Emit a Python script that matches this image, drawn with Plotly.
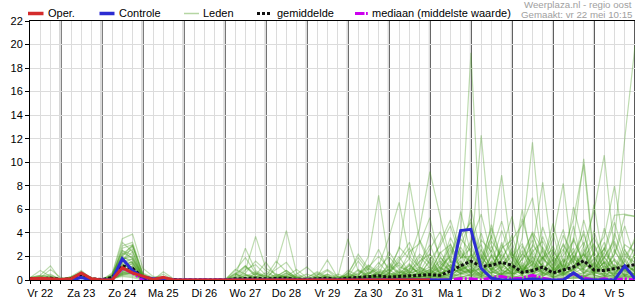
import plotly.graph_objects as go
import pandas as pd

# ---------------- data ----------------
START = "2020-05-22 06:00"      # first 6-hourly step (Vr 22 06:00)
END = "2020-06-06 00:00"        # right edge of the chart
N_STEPS = 60
DAY_LABELS = ["Vr 22", "Za 23", "Zo 24", "Ma 25", "Di 26", "Wo 27", "Do 28", "Vr 29",
              "Za 30", "Zo 31", "Ma 1", "Di 2", "Wo 3", "Do 4", "Vr 5"]
FIRST_NOON = "2020-05-22 12:00"
FIRST_MIDNIGHT = "2020-05-23 00:00"

# Operational run (10 days, i = 0..39)
OPER = [0.1, 0.15, 0.1, 0.05, 0.1, 0.6, 0.1, 0, 0, 1.05, 0.6, 0.3, 0.05, 0.22, 0,
        0, 0, 0, 0, 0, 0, 0, 0, 0, 0, 0, 0, 0, 0, 0, 0, 0, 0, 0, 0, 0, 0, 0, 0, 0]

CONTROLE = [0, 0, 0, 0, 0, 0.2, 0, 0, 0, 1.8, 0.8, 0.25, 0.1, 0.1, 0,
            0, 0, 0, 0, 0, 0, 0, 0, 0, 0, 0, 0, 0, 0, 0, 0, 0, 0, 0, 0,
            0, 0, 0, 0, 0, 0, 0, 4.2, 4.3, 1.0, 0.15, 0, 0, 0, 0.1, 0,
            0, 0, 0.6, 0, 0, 0, 0, 1.2, 0.1]

GEMIDDELDE = [0.1, 0.15, 0.15, 0.05, 0.1, 0.45, 0.1, 0.05, 0.2, 1.2, 1.0,
              0.2, 0.05, 0.1, 0.02, 0, 0, 0, 0, 0, 0.1, 0.15, 0.15,
              0.1, 0.1, 0.15, 0.05, 0.05, 0.1, 0.15, 0.05, 0.15, 0.2, 0.25, 0.35,
              0.25, 0.3, 0.4, 0.42, 0.45, 0.4, 0.75, 1.2, 1.6, 1.15, 1.25, 1.5,
              1.25, 0.65, 0.8, 1.1, 0.6, 0.85, 1.1, 1.65, 0.85, 0.8, 0.95, 1.15, 1.3]

MEDIAAN = [0, 0, 0, 0, 0, 0.45, 0, 0, 0, 1.0, 0.6, 0, 0, 0, 0,
           0, 0, 0, 0, 0, 0, 0, 0, 0, 0, 0, 0, 0, 0, 0, 0, 0, 0, 0, 0,
           0, 0, 0, 0, 0, 0, 0, 0.12, 0.1, 0, 0.2, 0.3, 0.1, 0.15, 0.4, 0.15,
           0, 0, 0.55, 0.15, 0, 0.1, 0, 0.1, 0]

LEDEN = [
    [0.1, 0.3, 0.2, 0, 0.2, 0.5, 0.1, 0, 0.4, 2.5, 1.8, 0.3, 0, 0.1, 0, 0, 0, 0, 0, 0, 0, 0.4, 0.2, 0, 0.3, 0.8, 0.2, 0, 0.1, 0.5, 0, 0.2, 0.6, 1.2, 0.4, 0.8, 1.5, 0.6, 0.9, 0.5, 1.2, 2.0, 3.9, 19.3, 2.5, 1.0, 0.4, 0.8, 2.2, 1.5, 0.6, 0.3, 1.8, 0.9, 2.6, 0.4, 0.2, 1.1, 0.8, 0.3],
    [0.2, 0.8, 0.3, 0, 0.3, 0.6, 0, 0, 0.2, 1.5, 2.9, 0.5, 0.1, 0, 0, 0, 0, 0, 0, 0, 0.5, 1.2, 0.3, 0, 0.2, 0.3, 0.1, 0, 0, 0.2, 0.1, 0.5, 0.3, 0.1, 0.8, 0.4, 0.2, 1.3, 0.5, 0.9, 0.3, 1.6, 0.8, 2.1, 1.4, 0.5, 3.2, 1.0, 0.4, 2.3, 1.1, 0.2, 0.6, 3.4, 1.5, 0.7, 1.9, 3.5, 12.0, 19.9],
    [0.1, 0.1, 0.4, 0.1, 0.2, 0.7, 0.2, 0, 0.5, 3.5, 3.9, 1.0, 0.3, 0.2, 0, 0, 0, 0, 0, 0, 0, 0, 0.6, 0.2, 0.4, 0.1, 0, 0, 0.3, 1.7, 0.2, 0.3, 0.1, 0.4, 0.2, 0.6, 0.3, 0.9, 2.2, 1.4, 0.6, 0.8, 1.9, 2.0, 12.3, 3.0, 0.8, 0.4, 1.5, 0.6, 2.8, 1.2, 0.5, 2.0, 0.6, 1.4, 3.2, 0.9, 0.5, 1.1],
    [0, 0.2, 0.1, 0, 0.1, 0.4, 0, 0, 0.1, 1.0, 0.9, 0.3, 0, 0, 0, 0, 0, 0, 0, 0, 0.3, 2.7, 0.8, 0.3, 0.1, 0.4, 0, 0, 0, 0, 0.3, 0.1, 0.8, 0.3, 0.5, 0.2, 0.5, 1.4, 0.3, 1.8, 0.7, 3.1, 1.0, 0.6, 1.8, 4.4, 1.6, 0.9, 3.6, 11.7, 2.4, 0.8, 1.5, 2.7, 0.6, 0.4, 1.0, 0.3, 1.8, 0.7],
    [0.1, 0.2, 0, 0, 0.2, 0.5, 0.1, 0, 0.3, 2.2, 2.9, 0.4, 0.1, 0.3, 0, 0, 0, 0, 0, 0, 0, 0.8, 3.7, 1.0, 0.5, 0.2, 0, 0, 0.2, 0, 0, 0.4, 0.2, 0.7, 0.1, 0.3, 0.8, 0.4, 1.0, 0.6, 1.4, 0.8, 2.5, 1.1, 0.4, 1.6, 0.9, 2.3, 0.8, 1.3, 3.7, 1.6, 0.5, 1.0, 2.9, 5.8, 10.6, 2.4, 1.3, 0.8],
    [0.2, 0.3, 0.5, 0, 0.3, 0.8, 0.1, 0, 0.6, 2.0, 1.5, 0.3, 0, 0, 0, 0, 0, 0, 0, 0, 0, 0.3, 0.7, 0.1, 0, 0.5, 0.2, 0, 0, 0.4, 0, 0.6, 0.2, 0.1, 0.3, 0.2, 0.4, 0.6, 0.8, 0.3, 0.9, 2.0, 1.2, 0.7, 2.6, 1.1, 0.5, 1.2, 0.4, 2.6, 1.0, 0.5, 2.1, 3.3, 10.3, 2.0, 0.6, 1.8, 0.9, 0.4],
    [0.1, 0.2, 0.1, 0, 0.1, 0.6, 0, 0, 0.1, 1.2, 1.1, 0.2, 0, 0, 0, 0, 0, 0, 0, 0, 0.5, 0.2, 0, 0, 0, 0.1, 0.3, 0, 0.2, 0.3, 0, 0.2, 0.4, 1.0, 0.3, 0.5, 2.8, 1.8, 4.4, 9.2, 5.5, 1.6, 0.8, 1.4, 0.6, 2.2, 1.5, 0.5, 1.2, 0.4, 1.9, 2.6, 0.8, 1.6, 0.5, 1.3, 0.7, 2.2, 5.5, 5.4],
    [0, 0.1, 0.2, 0, 0.1, 0.5, 0.2, 0, 0.2, 0.8, 0.6, 0.1, 0, 0, 0, 0, 0, 0, 0, 0, 0.2, 0, 0.3, 0.4, 0, 0.2, 0, 0, 0.3, 0.1, 0, 0.3, 0.5, 1.1, 2.0, 1.0, 2.6, 8.3, 3.3, 1.2, 0.6, 0.9, 3.5, 2.4, 1.0, 0.6, 1.8, 3.2, 0.7, 1.7, 0.4, 0.9, 3.1, 1.5, 4.2, 0.6, 1.5, 0.3, 1.0, 0.5],
    [0.1, 0.1, 0.1, 0, 0.2, 0.4, 0.1, 0, 0.1, 0.6, 0.8, 0.2, 0.1, 0, 0, 0, 0, 0, 0, 0, 0.1, 0.5, 0.2, 0, 0.2, 0.6, 0.1, 0, 0.5, 0.2, 0, 0.1, 0.3, 2.0, 7.2, 1.5, 0.6, 0.8, 1.6, 2.2, 0.4, 1.1, 0.6, 1.9, 3.0, 0.8, 2.2, 1.0, 2.5, 0.6, 1.4, 0.3, 1.2, 4.6, 0.8, 2.4, 0.9, 1.7, 0.3, 1.0],
    [0.2, 0.1, 0, 0, 0.1, 0.3, 0, 0, 0.3, 1.8, 2.0, 0.3, 0.1, 0, 0, 0, 0, 0, 0, 0, 0, 0.2, 0.1, 0, 0.3, 0.2, 0, 0, 0, 0.1, 0.2, 0.3, 0.1, 0.5, 1.2, 3.6, 6.6, 2.0, 1.1, 0.7, 2.3, 3.0, 1.4, 0.6, 1.1, 2.9, 0.7, 1.5, 0.5, 3.0, 1.8, 4.0, 0.7, 1.2, 2.2, 0.5, 2.8, 0.7, 0.4, 1.2],
    [0, 0.1, 0.1, 0, 0, 0.5, 0, 0, 0.1, 0.5, 0.4, 0.1, 0, 0, 0, 0, 0, 0, 0, 0, 0, 0, 0.2, 0.1, 0.1, 0, 0, 0, 0, 0, 0, 0.1, 0.2, 0.3, 0.1, 0.2, 0.1, 0.4, 0.3, 0.8, 1.6, 0.7, 2.8, 1.3, 1.8, 3.6, 8.9, 2.1, 0.9, 1.6, 0.5, 1.4, 0.6, 2.1, 1.2, 3.0, 0.8, 0.5, 1.6, 0.6],
    [0.1, 0.2, 0.1, 0, 0.1, 0.6, 0.1, 0, 0.2, 1.4, 1.3, 0.2, 0, 0, 0, 0, 0, 0, 0, 0, 0, 0, 0, 0, 0.2, 0.3, 0, 0, 0.1, 0.2, 0, 0, 0.2, 0.4, 0.2, 0.4, 0.3, 0.2, 0.6, 0.4, 0.8, 1.3, 0.5, 1.6, 0.7, 1.2, 2.5, 0.6, 1.8, 2.8, 8.3, 2.0, 1.1, 0.7, 2.3, 1.0, 0.4, 2.6, 0.9, 0.4],
    [0, 0.1, 0.2, 0, 0.2, 0.5, 0, 0, 0.1, 0.9, 1.4, 0.2, 0, 0, 0, 0, 0, 0, 0, 0, 0.4, 1.2, 0.5, 0, 0.1, 0.2, 0.1, 0, 0, 0.3, 0.1, 0.2, 0.1, 0.2, 0.5, 0.3, 0.2, 0.5, 0.4, 0.7, 0.5, 1.0, 2.2, 0.8, 0.9, 0.5, 1.3, 2.4, 0.7, 0.4, 1.5, 3.5, 8.2, 1.4, 0.6, 0.9, 2.3, 1.2, 0.7, 0.5],
    [0.1, 0.1, 0, 0, 0.1, 0.4, 0.1, 0, 0.2, 1.1, 1.6, 0.3, 0.1, 0, 0, 0, 0, 0, 0, 0, 0, 0.1, 0, 0, 0, 0.1, 0, 0, 0, 0, 0.1, 0, 0.2, 0.2, 0.6, 0.2, 0.7, 0.3, 0.5, 0.9, 0.3, 0.6, 1.4, 0.5, 1.6, 0.9, 2.7, 3.4, 4.7, 7.0, 1.8, 1.0, 0.4, 0.9, 2.2, 0.7, 1.5, 0.5, 2.0, 3.3],
    [0, 0.1, 0.1, 0, 0, 0.3, 0, 0, 0.1, 0.7, 0.5, 0.1, 0, 0, 0, 0, 0, 0, 0, 0, 0, 0.2, 0.1, 0, 0, 0, 0.2, 0.1, 0, 0, 0, 0.1, 0.1, 0.2, 0.1, 0.1, 0.2, 0.3, 0.7, 0.5, 1.0, 0.6, 0.9, 1.2, 0.4, 2.0, 0.8, 0.5, 1.1, 0.7, 1.9, 0.9, 2.4, 5.2, 9.8, 1.6, 0.5, 1.3, 0.4, 0.8],
    [0.1, 0.1, 0.3, 0, 0.1, 0.4, 0.1, 0, 0.1, 0.4, 0.3, 0.1, 0, 0.1, 0, 0, 0, 0, 0, 0, 0, 0, 0, 0, 0, 0.1, 0, 0, 0, 0, 0, 0, 0.1, 0.4, 0.2, 0.3, 0.5, 0.2, 0.2, 0.4, 0.3, 1.8, 0.6, 1.0, 2.2, 0.7, 0.4, 1.3, 0.5, 1.0, 0.7, 2.1, 0.6, 1.8, 1.1, 2.3, 3.7, 8.0, 2.5, 1.4],
    [0.2, 0.1, 0.1, 0, 0.1, 0.5, 0, 0, 0.2, 1.6, 2.4, 0.2, 0, 0, 0, 0, 0, 0, 0, 0, 0.2, 0.6, 1.6, 0.8, 0.2, 0, 0, 0, 0, 0, 0, 0, 0.1, 0.1, 0.1, 0.2, 0.3, 0.5, 0.2, 0.6, 1.1, 0.4, 1.0, 3.1, 0.8, 1.5, 0.6, 0.9, 6.0, 1.2, 0.8, 1.7, 0.6, 0.9, 1.5, 6.4, 1.2, 0.8, 2.6, 1.0],
    [0, 0.1, 0, 0, 0.1, 0.3, 0, 0, 0.1, 0.3, 0.2, 0, 0, 0, 0, 0, 0, 0, 0, 0, 0, 0, 0, 0, 1.2, 4.2, 0.6, 0, 0, 0, 0, 0.1, 0, 0.1, 0, 0.2, 0.1, 0.1, 0.3, 0.2, 0.4, 0.3, 1.1, 0.7, 0.3, 0.9, 1.4, 0.5, 0.8, 2.0, 1.2, 0.6, 1.4, 0.7, 0.3, 0.9, 2.0, 0.6, 1.3, 0.7],
    [0.1, 0.2, 0.1, 0, 0.1, 0.5, 0.1, 0, 0.2, 2.7, 3.0, 0.5, 0.1, 0, 0, 0, 0, 0, 0, 0, 0, 0, 0, 0, 0, 0, 0, 0, 0.1, 0.5, 0.2, 3.5, 0.8, 0.3, 0.1, 0.4, 0.6, 1.2, 0.5, 1.6, 0.6, 0.4, 0.9, 0.3, 1.2, 0.6, 1.1, 2.0, 0.5, 1.4, 0.3, 0.8, 1.7, 0.4, 0.6, 1.5, 0.3, 1.1, 0.6, 2.1],
    [0, 0.1, 0.2, 0.1, 0.2, 0.6, 0.1, 0, 0.4, 2.5, 2.1, 0.3, 0, 0, 0, 0, 0, 0, 0, 0, 0, 0, 0, 0.2, 0.1, 0.6, 0.1, 0, 0, 0, 0, 0, 0.3, 0.6, 1.0, 2.0, 0.9, 0.4, 0.6, 0.3, 1.9, 1.1, 0.5, 0.9, 0.5, 1.3, 4.2, 1.8, 0.6, 0.9, 2.0, 0.4, 1.0, 2.4, 0.8, 0.5, 1.6, 0.9, 0.4, 0.6],
    [0.1, 0.1, 0.1, 0, 0.1, 0.4, 0, 0, 0.1, 1.3, 1.0, 0.2, 0, 0, 0, 0, 0, 0, 0, 0, 0.9, 0.5, 0, 0, 0, 0.2, 0, 0, 0, 0, 0, 0, 0, 0.3, 0.2, 0.1, 0.2, 0.4, 0.2, 0.5, 0.3, 0.7, 1.6, 0.6, 2.0, 0.8, 0.3, 0.7, 1.0, 0.5, 1.2, 0.8, 0.4, 1.1, 0.9, 0.6, 0.5, 0.7, 1.0, 0.3],
    [0, 0.1, 0, 0, 0.1, 0.3, 0.1, 0, 0.1, 0.5, 0.7, 0.1, 0, 0, 0, 0, 0, 0, 0, 0, 0, 0, 0, 0, 0, 0, 0, 0, 0, 0, 0, 0, 0.1, 0.2, 0.1, 0.1, 0.1, 0.2, 0.2, 0.3, 0.2, 0.5, 0.4, 0.8, 0.4, 0.2, 0.6, 0.4, 0.9, 0.3, 0.6, 0.2, 0.5, 0.3, 0.4, 0.3, 0.6, 0.2, 0.4, 0.2],
    [0.1, 0.2, 0.1, 0, 0.1, 0.6, 0.1, 0, 0.3, 1.9, 1.7, 0.3, 0.1, 0, 0, 0, 0, 0, 0, 0, 0, 0, 0.3, 0.1, 0, 0, 0, 0, 0.2, 0.1, 0, 0.1, 0, 0, 0.2, 0.6, 0.4, 1.0, 0.7, 1.1, 0.5, 2.6, 0.9, 0.4, 0.7, 0.3, 0.5, 0.2, 1.3, 0.6, 0.3, 1.0, 0.3, 0.6, 1.7, 0.4, 0.2, 0.5, 0.8, 0.4],
    [0.2, 0.4, 0.3, 0.1, 0.2, 0.5, 0.1, 0, 0.2, 1.2, 1.1, 0.2, 0, 0, 0, 0, 0, 0, 0, 0, 0, 0, 0, 0, 0, 0.1, 0.4, 0.2, 0, 0, 0, 0, 0, 0.1, 0, 0, 0.1, 0.2, 0.1, 0.2, 0.1, 0.3, 0.2, 0.5, 0.2, 0.4, 0.3, 0.2, 0.4, 0.1, 0.5, 0.6, 0.2, 0.1, 0.3, 0.2, 0.4, 0.3, 0.1, 0.2],
    [0, 0.1, 0.1, 0, 0.1, 0.4, 0, 0, 0.1, 0.8, 0.9, 0.1, 0, 0, 0, 0, 0, 0, 0, 0, 0, 0, 0, 0, 0, 0, 0, 0, 0, 0, 0, 0, 0.1, 0, 0.1, 0.1, 0.2, 0.1, 0.3, 0.4, 0.2, 0.1, 0.6, 0.3, 0.6, 1.0, 0.4, 0.3, 0.2, 0.8, 0.4, 0.5, 0.9, 0.4, 0.2, 0.7, 0.3, 0.4, 0.9, 0.5],
    [0.1, 0.1, 0, 0, 0.1, 0.5, 0, 0, 0.2, 0.6, 0.5, 0.1, 0, 0, 0, 0, 0, 0, 0, 0, 0, 0, 0, 0, 0, 0, 0, 0, 0, 0, 0, 0, 0, 0, 0, 0, 0, 0.1, 0.1, 0.2, 0.3, 0.1, 0.2, 0.1, 0.3, 0.2, 0.1, 0.3, 0.1, 0.2, 0.2, 0.1, 0.2, 0.3, 0.1, 0.2, 0.1, 0.2, 0.3, 0.1],
    [0.2, 0.4, 1.2, 0, 0.1, 0.3, 0.1, 0, 0.1, 0.4, 0.6, 0.2, 0, 0.7, 0.1, 0, 0, 0, 0, 0, 0, 0, 0, 0, 0.5, 0.3, 0, 0, 0, 0, 0, 0, 0, 0.2, 0.3, 0.9, 0.3, 0.7, 0.4, 0.6, 0.4, 1.3, 0.8, 2.2, 0.6, 0.4, 0.9, 0.5, 0.7, 1.9, 0.6, 1.1, 0.5, 0.9, 0.4, 0.5, 1.2, 0.3, 0.2, 0.4],
    [0.1, 0.1, 0.2, 0, 0.2, 0.7, 0.1, 0, 0.2, 2.9, 3.2, 0.6, 0.2, 0.1, 0, 0, 0, 0, 0, 0, 0, 0, 0, 0, 0, 0, 0, 0, 0, 0, 0, 0, 0, 0, 0, 0.1, 0.2, 0.1, 0.4, 0.2, 0.6, 0.3, 0.5, 0.9, 0.3, 0.7, 0.5, 0.6, 0.3, 0.5, 0.9, 0.3, 0.6, 0.5, 0.2, 0.8, 0.4, 0.6, 0.3, 0.4],
    [0.1, 0.2, 0.9, 0.2, 0.1, 0.5, 0, 0, 0.3, 2.3, 1.9, 0.4, 0.1, 0.5, 0, 0, 0, 0, 0, 0, 0.6, 0, 0, 0, 0, 0, 0, 0, 0, 0, 0, 0.1, 0, 0, 0, 0, 0, 0.1, 0, 0.1, 0.2, 0.5, 0.3, 0.2, 0.5, 0.3, 0.2, 0.4, 0.2, 0.3, 0.1, 0.2, 0.4, 0.6, 0.3, 0.1, 0.3, 0.2, 0.5, 0.2],
    [0, 0.1, 0.1, 0, 0.1, 0.4, 0.1, 0, 0.4, 3.2, 2.4, 0.3, 0.1, 0, 0, 0, 0, 0, 0, 0, 0, 0, 0, 0, 0, 0, 0, 0, 0, 0, 0, 0, 0, 0, 0, 0, 0.1, 0.1, 0.1, 0.1, 0.2, 0.1, 0.3, 0.4, 0.1, 0.2, 0.3, 0.1, 0.2, 0.3, 0.2, 0.3, 0.1, 0.2, 0.2, 0.1, 0.2, 0.1, 0.3, 0.1],
    [0.1, 0.1, 0, 0, 0.1, 0.3, 0, 0, 0.1, 0.9, 0.7, 0.1, 0, 0, 0, 0, 0, 0, 0, 0, 0, 0, 0, 0, 0, 0, 0, 0, 0, 0, 0, 0, 0.1, 0.1, 0.3, 0.2, 0.4, 0.2, 0.1, 0.3, 0.4, 0.2, 0.8, 0.6, 0.3, 2.1, 0.5, 1.1, 0.4, 0.9, 0.6, 0.7, 1.3, 0.6, 1.0, 1.8, 2.6, 5.5, 5.6, 5.4],
    [0, 0.1, 0.1, 0, 0.1, 0.5, 0, 0, 0.1, 1.0, 0.8, 0.2, 0, 0, 0, 0, 0, 0, 0, 0, 0, 0, 0, 0, 0, 0, 0, 0, 0, 0, 0, 0, 0, 0, 0, 0, 0, 0, 0.1, 0.1, 0, 0.2, 0.1, 0.1, 0.2, 0.1, 0, 0.1, 0, 0.1, 0.1, 0, 0.1, 0.2, 0.1, 0, 0.1, 0, 0.1, 0],
    [0, 0, 0.1, 0, 0.1, 0.3, 0, 0, 0.1, 0.7, 1.2, 0.2, 0, 0, 0, 0, 0, 0, 0, 0, 0.3, 1.1, 0.4, 1.5, 0.3, 0.8, 0.2, 0, 0.4, 0.9, 0.3, 0.2, 1.6, 0.5, 0.9, 0.6, 1.8, 3.2, 1.2, 2.6, 4.1, 1.5, 5.8, 2.2, 0.9, 3.8, 1.4, 0.6, 2.9, 1.1, 4.5, 1.9, 0.7, 3.6, 1.3, 0.8, 4.4, 1.6, 0.9, 2.2],
    [0.1, 0.2, 0.1, 0, 0.1, 0.4, 0, 0, 0.2, 1.7, 1.4, 0.2, 0, 0, 0, 0, 0, 0, 0, 0, 0, 0.2, 0.5, 0.2, 0.9, 1.5, 0.3, 0, 0.1, 0, 0, 0.6, 1.9, 0.8, 0.3, 1.2, 0.6, 2.4, 3.1, 5.3, 1.4, 2.8, 1.0, 6.1, 2.0, 0.8, 3.0, 1.4, 5.2, 2.0, 0.6, 2.5, 1.1, 6.2, 2.8, 0.7, 1.9, 3.3, 1.2, 0.8],
    [0.1, 0.1, 0.1, 0, 0.1, 0.5, 0.1, 0, 0.3, 2.0, 3.0, 0.4, 0.1, 0, 0, 0, 0, 0, 0, 0, 0, 0, 0, 0, 0, 0, 0, 0.2, 0.6, 0.2, 0, 0, 0.2, 0.9, 2.6, 0.7, 1.3, 0.5, 2.0, 1.0, 3.2, 5.1, 2.3, 1.5, 4.0, 1.2, 2.6, 5.4, 1.6, 3.4, 0.9, 1.8, 4.3, 0.8, 2.0, 3.1, 1.0, 2.2, 4.6, 1.7],
    [0, 0.1, 0, 0, 0, 0.4, 0, 0, 0.1, 0.5, 0.6, 0.1, 0, 0, 0, 0, 0, 0, 0, 0, 0, 0, 0, 0, 0, 0, 0, 0, 0, 0, 0, 0.3, 0.1, 0.6, 0.2, 1.4, 0.4, 0.7, 1.1, 0.5, 2.4, 1.0, 3.7, 4.9, 1.3, 2.5, 1.1, 0.7, 1.8, 4.1, 2.6, 1.2, 3.0, 1.4, 5.1, 2.0, 0.6, 4.0, 1.5, 3.6],
    [0, 0, 0.1, 0, 0, 0.3, 0, 0, 0.1, 0.6, 0.9, 0.1, 0, 0, 0, 0, 0, 0, 0, 0, 0.8, 1.9, 0.6, 0.3, 1.6, 0.7, 0.2, 0.5, 0.2, 0.8, 0.1, 0.4, 2.2, 1.0, 0.5, 2.4, 1.1, 0.8, 3.4, 1.7, 2.9, 4.6, 1.8, 3.3, 5.6, 2.1, 1.0, 2.7, 0.8, 3.9, 1.6, 4.8, 1.5, 2.3, 3.9, 1.2, 2.7, 1.0, 3.0, 2.4],
    [0.1, 0.1, 0, 0, 0.1, 0.4, 0, 0, 0.2, 1.5, 1.8, 0.3, 0, 0, 0, 0, 0, 0, 0, 0, 0, 0.4, 0.2, 0.6, 0.2, 0.3, 0.9, 0.2, 0.7, 0.3, 0, 0.8, 0.4, 1.3, 0.6, 0.9, 2.0, 0.6, 1.5, 3.0, 0.9, 2.2, 4.3, 1.1, 3.4, 2.4, 5.0, 1.9, 3.1, 0.9, 2.5, 1.0, 3.8, 2.0, 0.9, 4.2, 1.3, 3.1, 1.1, 2.8],
    [0, 0.1, 0.1, 0, 0.1, 0.5, 0, 0, 0.2, 2.1, 2.6, 0.3, 0, 0, 0, 0, 0, 0, 0, 0, 0.2, 0.9, 1.3, 0.4, 0, 0.2, 0.5, 1.1, 0.3, 0, 0.5, 0.2, 0.9, 0.4, 1.5, 0.5, 1.6, 2.7, 0.9, 4.1, 2.0, 0.7, 2.9, 5.2, 1.5, 3.3, 2.0, 0.8, 2.2, 4.0, 1.3, 2.9, 1.0, 1.9, 3.2, 0.9, 2.4, 4.9, 2.0, 1.5],
    [0.1, 0.3, 0.2, 0, 0.2, 0.6, 0.1, 0, 0.2, 1.3, 1.5, 0.2, 0, 0, 0, 0, 0, 0, 0, 0, 0, 0, 0, 0, 0, 0, 0, 0, 0, 0, 0, 0.1, 0.3, 0.2, 0.7, 0.4, 0.9, 1.8, 0.7, 2.2, 1.0, 3.6, 1.9, 2.7, 1.2, 4.7, 1.6, 3.8, 1.1, 2.4, 3.3, 1.5, 2.6, 1.1, 2.4, 3.6, 1.9, 0.8, 2.3, 1.0],
]

for k, m in enumerate(LEDEN):
    assert len(m) == N_STEPS, (k, len(m))
assert len(CONTROLE) == N_STEPS and len(GEMIDDELDE) == N_STEPS and len(MEDIAAN) == N_STEPS

# ---------------- styling ----------------
RED = "#d42c2c"
BLUE = "#2c2cd2"
MAGENTA = "#cc00ee"
MEMBER = "rgba(70,155,30,0.35)"
MEMBER_LEGEND = "#b5d6a3"
GRID = "#dcdcdc"
DAYLINE = "#5a5a5a"
FONT = "Liberation Sans, Arial, sans-serif"

W, H = 635, 300
ML, MR, MT, MB = 30, 0, 21, 20

times = pd.date_range(START, periods=N_STEPS, freq="6h")
noons = pd.date_range(FIRST_NOON, periods=len(DAY_LABELS), freq="D")
midnights = pd.date_range(FIRST_MIDNIGHT, END, freq="D")

fig = go.Figure()
for m in LEDEN:
    fig.add_trace(go.Scatter(x=times, y=m, mode="lines",
                             line=dict(color=MEMBER, width=1.2),
                             hoverinfo="skip", showlegend=False))
fig.add_trace(go.Scatter(x=times, y=MEDIAAN, mode="lines", name="mediaan (middelste waarde)",
                         line=dict(color=MAGENTA, width=3, dash="9px,2px,2px,2px"), showlegend=False))
fig.add_trace(go.Scatter(x=times, y=GEMIDDELDE, mode="lines", name="gemiddelde",
                         line=dict(color="#111111", width=3, dash="3px,2px"), showlegend=False))
fig.add_trace(go.Scatter(x=times, y=CONTROLE, mode="lines", name="Controle",
                         line=dict(color=BLUE, width=3), showlegend=False))
fig.add_trace(go.Scatter(x=times[:len(OPER)], y=OPER, mode="lines", name="Oper.",
                         line=dict(color=RED, width=3), showlegend=False))

# day separators
for d in midnights:
    fig.add_shape(type="line", xref="x", yref="paper", x0=d, x1=d, y0=0, y1=1,
                  line=dict(color=DAYLINE, width=2), layer="below")

PW = W - ML - MR
PH = H - MT - MB


def px(xpix):
    return (xpix - ML) / PW


def py(ypix):
    return (H - MB - ypix) / PH


# manual legend
LEG_Y = 13.5
legend_items = [
    ("Oper.", 28, 43.5, 47, dict(color=RED, width=3.5)),
    ("Controle", 99.5, 114.5, 117.5, dict(color=BLUE, width=3.5)),
    ("Leden", 184, 199, 202, dict(color=MEMBER_LEGEND, width=1.5)),
    ("gemiddelde", 257, 272, 276, dict(color="#111111", width=3, dash="3px,2px")),
    ("mediaan (middelste waarde)", 355, 364.5, 370.5, dict(color=MAGENTA, width=3)),
]
for label, x0, x1, xt, ln in legend_items:
    fig.add_shape(type="line", xref="paper", yref="paper", x0=px(x0), x1=px(x1),
                  y0=py(LEG_Y), y1=py(LEG_Y), line=ln)
    fig.add_annotation(xref="paper", yref="paper", x=px(xt), y=py(LEG_Y), text=label,
                       showarrow=False, xanchor="left", yanchor="middle",
                       font=dict(family=FONT, size=11, color="black"), borderpad=0)
fig.add_shape(type="line", xref="paper", yref="paper", x0=px(366), x1=px(367.8),
              y0=py(LEG_Y), y1=py(LEG_Y), line=dict(color=MAGENTA, width=3))

fig.add_annotation(xref="paper", yref="paper", x=px(633), y=py(4.5), text="Weerplaza.nl - regio oost",
                   showarrow=False, xanchor="right", yanchor="middle",
                   font=dict(family=FONT, size=9.7, color="#a0a0a0"), borderpad=0)
fig.add_annotation(xref="paper", yref="paper", x=px(633), y=py(14.5), text="Gemaakt: vr 22 mei 10:15",
                   showarrow=False, xanchor="right", yanchor="middle",
                   font=dict(family=FONT, size=9.7, color="#a0a0a0"), borderpad=0)

fig.update_layout(
    width=W, height=H,
    margin=dict(l=ML, r=MR, t=MT, b=MB, pad=0),
    paper_bgcolor="white", plot_bgcolor="white",
    showlegend=False,
    font=dict(family=FONT, size=11, color="black"),
)
fig.update_xaxes(
    range=[times[0], END],
    tickmode="array", tickvals=noons, ticktext=DAY_LABELS,
    showgrid=True, gridcolor=GRID, gridwidth=1,
    ticks="outside", ticklen=3, tickcolor="black", tickwidth=1,
    showline=True, linecolor="black", linewidth=1, mirror=True,
    zeroline=False,
    tickfont=dict(family=FONT, size=11, color="black"),
    minor=dict(dtick=6 * 3600 * 1000, tick0="2020-05-22 00:00", showgrid=True,
               gridcolor=GRID, gridwidth=1, ticks="outside", ticklen=3, tickcolor="black"),
)
fig.update_yaxes(
    range=[0, 22], tick0=0, dtick=2,
    showgrid=True, gridcolor=GRID, gridwidth=1,
    ticks="outside", ticklen=4, tickcolor="black",
    showline=True, linecolor="black", linewidth=1,
    zeroline=False,
    tickfont=dict(family=FONT, size=11, color="black"),
)

fig.write_html("out.html", config={"displayModeBar": False})
